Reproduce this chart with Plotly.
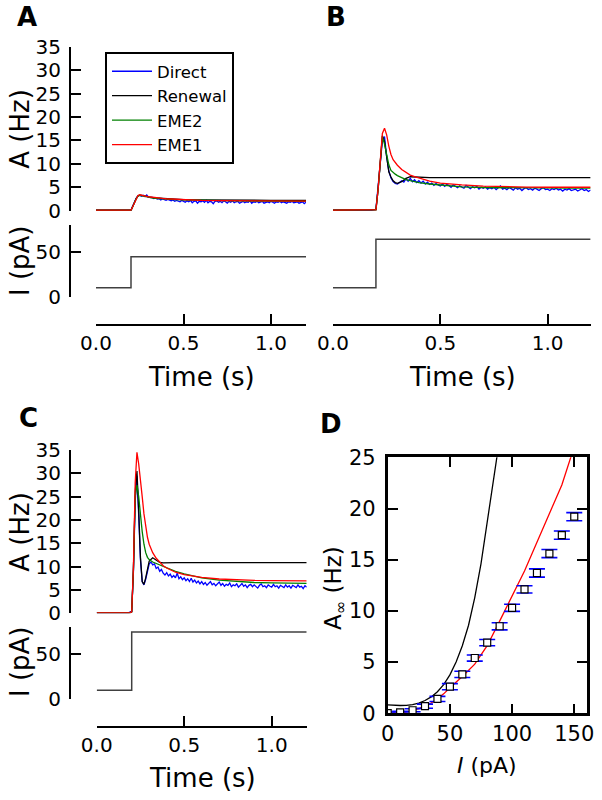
import plotly.graph_objects as go

W, H = 602, 800
FONT = "DejaVu Sans"

# ---------------- data ----------------
T_DIRECT = [0.00, 0.03, 0.06, 0.09, 0.12, 0.15, 0.18,
            0.20, 0.21, 0.22, 0.23, 0.24, 0.25, 0.26, 0.27, 0.28, 0.29,
            0.30, 0.31, 0.32, 0.33, 0.34, 0.35, 0.36, 0.37, 0.38, 0.39,
            0.40, 0.41, 0.42, 0.43, 0.44, 0.45, 0.46, 0.47, 0.48, 0.49,
            0.50, 0.51, 0.52, 0.53, 0.54, 0.55, 0.56, 0.57, 0.58, 0.59,
            0.60, 0.61, 0.62, 0.63, 0.64, 0.65, 0.66, 0.67, 0.68, 0.69,
            0.70, 0.71, 0.72, 0.73, 0.74, 0.75, 0.76, 0.77, 0.78, 0.79,
            0.80, 0.81, 0.82, 0.83, 0.84, 0.85, 0.86, 0.87, 0.88, 0.89,
            0.90, 0.91, 0.92, 0.93, 0.94, 0.95, 0.96, 0.97, 0.98, 0.99,
            1.00, 1.01, 1.02, 1.03, 1.04, 1.05, 1.06, 1.07, 1.08, 1.09,
            1.10, 1.11, 1.12, 1.13, 1.14, 1.15, 1.16, 1.17, 1.18, 1.19,
            1.20]

DIRECT_A = [0.1, 0.15, 0.05, 0.1, 0.12, 0.08, 0.1,
            0.15, 1.0, 1.9, 2.7, 3.2, 3.3, 3.1, 3.3, 3.0, 3.35,
            2.9, 2.8, 2.9, 2.6, 2.7, 2.5, 2.6, 2.3, 2.5, 2.4,
            2.2, 2.4, 2.3, 2.1, 2.3, 2.0, 2.2, 2.1, 1.9, 2.2,
            2.0, 1.8, 2.1, 1.9, 2.2, 1.7, 2.0, 2.1, 1.6, 2.0,
            1.9, 2.1, 1.8, 2.2, 1.7, 2.0, 1.9, 1.5, 2.0, 2.1,
            1.8, 2.0, 1.7, 2.1, 1.9, 1.6, 2.0, 1.8, 2.1, 1.7,
            1.9, 2.0, 1.6, 1.9, 2.0, 1.7, 1.9, 1.8, 2.1, 1.6,
            1.9, 1.8, 2.0, 1.7, 1.9, 2.0, 1.6, 1.8, 1.9, 1.7,
            2.0, 1.8, 1.6, 1.9, 1.8, 2.0, 1.7, 1.9, 1.8, 1.6,
            1.9, 1.8, 2.0, 1.7, 1.8, 1.9, 1.6, 1.8, 1.9, 1.5,
            1.8]

DIRECT_B = [0.1, 0.12, 0.08, 0.1, 0.15, 0.1, 0.1,
            0.3, 4.5, 10.0, 15.0, 15.8, 11.5, 8.5, 7.0, 6.2, 5.8,
            5.7, 6.0, 6.4, 6.1, 6.8, 6.3, 6.9, 6.2, 6.6, 6.0,
            6.4, 5.9, 6.3, 5.7, 6.1, 5.6, 5.9, 5.4, 5.8, 5.5,
            5.3, 5.7, 5.2, 5.6, 5.4, 5.0, 5.5, 5.2, 4.9, 5.3,
            5.1, 4.8, 5.4, 5.0, 4.7, 5.1, 4.9, 5.2, 4.6, 5.0,
            4.8, 5.1, 4.6, 4.9, 4.7, 5.0, 4.5, 4.9, 5.3, 4.6,
            4.8, 4.5, 4.9, 4.7, 4.4, 4.9, 4.6, 4.8, 4.3, 4.7,
            4.9, 4.5, 4.7, 4.4, 4.8, 4.6, 4.3, 4.7, 4.9, 4.5,
            4.6, 4.3, 4.7, 4.5, 4.8, 4.4, 4.6, 4.2, 4.6, 4.4,
            4.7, 4.3, 4.5, 4.6, 4.2, 4.5, 4.7, 4.3, 4.5, 4.1,
            4.4]

DIRECT_C = [0.1, 0.12, 0.08, 0.1, 0.15, 0.1, 0.1,
            0.4, 9.0, 24.0, 29.5, 21.0, 11.5, 6.8, 6.1, 7.3, 9.2,
            10.6, 11.0, 10.4, 10.6, 9.6, 9.9, 9.0, 9.4, 8.6, 8.2,
            8.7, 8.0, 8.4, 7.7, 8.1, 7.6, 8.6, 7.4, 7.8, 7.2,
            7.6, 7.0, 7.4, 6.8, 7.5, 6.7, 7.1, 6.5, 6.9, 6.3,
            6.8, 6.2, 6.6, 6.0, 6.5, 6.8, 6.1, 6.4, 5.9, 6.3,
            6.7, 6.0, 6.4, 5.8, 6.2, 6.0, 6.5, 5.7, 6.1, 5.9,
            6.3, 5.6, 6.0, 6.4, 5.8, 6.1, 5.5, 6.0, 6.2, 5.7,
            6.1, 5.8, 5.4, 6.0, 6.3, 5.7, 5.9, 5.5, 6.1, 5.8,
            5.6, 6.2, 5.7, 5.9, 5.4, 6.0, 5.8, 5.5, 6.1, 5.6,
            5.9, 5.4, 6.0, 5.7, 5.5, 6.1, 5.6, 5.8, 5.3, 5.9,
            5.6]

T_MODEL = [0.00, 0.19, 0.20, 0.21, 0.22, 0.23, 0.24, 0.25, 0.26, 0.27,
           0.28, 0.29, 0.30, 0.32, 0.34, 0.36, 0.38, 0.40, 0.45, 0.50,
           0.55, 0.60, 0.70, 0.80, 0.90, 1.00, 1.10, 1.20]

RENEWAL_A = [0.1, 0.1, 0.1, 0.9, 1.8, 2.6, 3.15, 3.3, 3.25, 3.15,
             3.05, 2.98, 2.9, 2.8, 2.72, 2.66, 2.6, 2.55, 2.45, 2.38,
             2.33, 2.3, 2.25, 2.22, 2.2, 2.2, 2.2, 2.2]
EME2_A = [0.1, 0.1, 0.1, 0.9, 1.8, 2.6, 3.1, 3.25, 3.2, 3.1,
          3.0, 2.93, 2.85, 2.75, 2.66, 2.58, 2.52, 2.47, 2.37, 2.29,
          2.23, 2.18, 2.12, 2.08, 2.05, 2.03, 2.02, 2.01]
EME1_A = [0.1, 0.1, 0.1, 0.9, 1.8, 2.7, 3.25, 3.4, 3.35, 3.25,
          3.15, 3.07, 2.98, 2.86, 2.76, 2.68, 2.61, 2.55, 2.43, 2.34,
          2.27, 2.22, 2.15, 2.1, 2.07, 2.05, 2.04, 2.03]

RENEWAL_B = [0.1, 0.1, 0.2, 4.5, 10.0, 16.0, 14.8, 11.0, 8.3, 7.2,
             6.4, 6.0, 5.85, 6.2, 6.9, 7.25, 7.2, 7.1, 7.05, 7.05,
             7.05, 7.05, 7.05, 7.05, 7.05, 7.05, 7.05, 7.05]
EME2_B = [0.1, 0.1, 0.2, 4.5, 10.0, 15.8, 14.2, 11.8, 9.8, 8.6,
          8.1, 7.8, 7.5, 7.0, 6.65, 6.4, 6.15, 6.0, 5.7, 5.45,
          5.25, 5.1, 4.95, 4.88, 4.83, 4.8, 4.8, 4.8]
EME1_B = [0.1, 0.1, 0.2, 4.5, 10.5, 16.5, 17.6, 16.2, 13.8, 12.0,
          10.9, 10.2, 9.7, 8.8, 8.1, 7.6, 7.25, 7.0, 6.3, 5.9,
          5.65, 5.5, 5.25, 5.1, 5.05, 5.0, 5.0, 5.0]

RENEWAL_C = [0.1, 0.1, 0.3, 9.5, 26.0, 30.5, 22.0, 12.0, 6.8, 6.2,
             7.6, 9.6, 11.2, 11.9, 11.3, 10.9, 10.8, 10.85, 10.85, 10.85,
             10.85, 10.85, 10.85, 10.85, 10.85, 10.85, 10.85, 10.85]
EME2_C = [0.1, 0.1, 0.3, 9.5, 25.0, 27.5, 25.0, 21.0, 17.5, 14.8,
          13.0, 12.0, 11.5, 11.0, 10.7, 10.3, 9.95, 9.65, 9.0, 8.45,
          8.0, 7.6, 7.1, 6.8, 6.6, 6.5, 6.45, 6.43]
EME1_C = [0.1, 0.1, 0.3, 10.0, 28.0, 34.5, 32.0, 29.0, 25.0, 21.3,
          18.5, 16.3, 14.8, 13.0, 11.8, 10.9, 10.2, 9.7, 8.8, 8.3,
          7.95, 7.7, 7.35, 7.15, 7.05, 7.0, 6.97, 6.95]

T_STEP = [0.0, 0.2, 0.2, 1.2]
I_A = [10, 10, 45, 45]
I_B = [10, 10, 65, 65]
I_C = [10, 10, 75, 75]

# panel D
I_POINTS = [0, 10, 20, 30, 40, 50, 60, 70, 80, 90, 100, 110, 120, 130, 140, 150]
A_POINTS = [0.02, 0.1, 0.3, 0.7, 1.4, 2.6, 3.8, 5.4, 6.9, 8.5, 10.3, 12.1, 13.7, 15.6, 17.4, 19.2]
A_ERR = [0.1, 0.1, 0.15, 0.2, 0.25, 0.3, 0.3, 0.3, 0.3, 0.35, 0.35, 0.35, 0.4, 0.4, 0.4, 0.4]

I_RENEWAL = [0, 5, 10, 15, 20, 25, 30, 35, 40, 45, 50, 55, 60, 65, 70, 75, 80, 85, 89]
A_RENEWAL = [0.82, 0.78, 0.76, 0.78, 0.85, 1.0, 1.25, 1.6, 2.1, 2.8, 3.75, 5.0, 6.6, 8.6,
             11.3, 14.6, 18.5, 22.8, 26.0]
I_EME1 = [0, 5, 10, 15, 20, 25, 30, 35, 40, 45, 50, 60, 70, 80, 90, 100, 110, 120, 130, 140, 148]
A_EME1 = [0.0, 0.02, 0.07, 0.15, 0.27, 0.45, 0.7, 1.0, 1.4, 1.9, 2.5, 3.6, 4.8, 6.6, 9.0,
          11.4, 13.9, 16.7, 19.5, 22.3, 25.3]

SERIES_NAMES = ["Direct", "Renewal", "EME2", "EME1"]
SERIES_COLORS = ["#0000ff", "#000000", "#008000", "#ff0000"]


def px(x):
    return x / W


def py(y):
    return 1 - y / H


fig = go.Figure()

panels = [
    ("x", "y", "y2", DIRECT_A, RENEWAL_A, EME2_A, EME1_A, I_A, True),
    ("x2", "y3", "y4", DIRECT_B, RENEWAL_B, EME2_B, EME1_B, I_B, False),
    ("x3", "y5", "y6", DIRECT_C, RENEWAL_C, EME2_C, EME1_C, I_C, False),
]
for xa, ya, yi, d, r, e2, e1, cur, show in panels:
    series = [(T_DIRECT, d), (T_MODEL, r), (T_MODEL, e2), (T_MODEL, e1)]
    for (tx, vals), name, col in zip(series, SERIES_NAMES, SERIES_COLORS):
        fig.add_trace(go.Scatter(x=tx, y=vals, mode="lines", name=name,
                                 line=dict(color=col, width=1.3),
                                 xaxis=xa, yaxis=ya, showlegend=show))
    fig.add_trace(go.Scatter(x=T_STEP, y=cur, mode="lines", showlegend=False,
                             line=dict(color="#404040", width=1.5),
                             xaxis=xa, yaxis=yi))

# panel D
fig.add_trace(go.Scatter(x=I_RENEWAL, y=A_RENEWAL, mode="lines", showlegend=False,
                         line=dict(color="black", width=1.3), xaxis="x4", yaxis="y7"))
fig.add_trace(go.Scatter(x=I_EME1, y=A_EME1, mode="lines", showlegend=False,
                         line=dict(color="#ff0000", width=1.3), xaxis="x4", yaxis="y7"))
fig.add_trace(go.Scatter(x=I_POINTS, y=A_POINTS, mode="markers", showlegend=False,
                         marker=dict(symbol="square", size=7, color="white",
                                     line=dict(color="black", width=1.2)),
                         error_y=dict(type="data", array=A_ERR, color="#0000ff",
                                      thickness=1.6, width=8),
                         xaxis="x4", yaxis="y7"))

tickfont = dict(family=FONT, size=20, color="black")
common = dict(showgrid=False, zeroline=False, showline=True, linecolor="black",
              linewidth=2.2, ticks="inside", ticklen=10, tickwidth=2,
              tickcolor="black", tickfont=tickfont, automargin=False)

time_ax = dict(common, range=[0, 1.2], tickvals=[0, 0.5, 1.0],
               ticktext=["0.0", "0.5", "1.0"], anchor="free", ticklabelstandoff=0)
hz_ax = dict(common, range=[0, 35], dtick=5, anchor="free", position=px(70),
             ticklabelstandoff=4)
cur_ax = dict(common, range=[0, 81], tickvals=[0, 50], anchor="free", position=px(70),
              ticklabelstandoff=4)

fig.update_layout(
    width=W, height=H, margin=dict(l=0, r=0, t=0, b=0, autoexpand=False),
    paper_bgcolor="white", plot_bgcolor="white",
    font=dict(family=FONT, color="black"),
    xaxis=dict(time_ax, domain=[px(96), px(306)], position=py(325)),
    xaxis2=dict(time_ax, domain=[px(333), px(590.6)], position=py(325)),
    xaxis3=dict(time_ax, domain=[px(96.7), px(306.7)], position=py(727.3)),
    yaxis=dict(hz_ax, domain=[py(210.7), py(46.7)]),
    yaxis2=dict(cur_ax, domain=[py(296.7), py(225)]),
    yaxis3=dict(range=[0, 35], domain=[py(210.7), py(46.7)], visible=False,
                anchor="x2", automargin=False),
    yaxis4=dict(range=[0, 81], domain=[py(296.7), py(225)], visible=False,
                anchor="x2", automargin=False),
    yaxis5=dict(hz_ax, domain=[py(613.3), py(450)]),
    yaxis6=dict(cur_ax, domain=[py(699.3), py(626.7)]),
    xaxis4=dict(common, domain=[px(387.7), px(586.7)], range=[0, 160],
                tickvals=[0, 50, 100, 150], anchor="y7", mirror="allticks",
                linewidth=2.6, ticklabelstandoff=0, tickfont=dict(tickfont, size=21)),
    yaxis7=dict(common, domain=[py(713.3), py(457.3)], range=[0, 25], dtick=5,
                anchor="x4", mirror="allticks", linewidth=2.6, ticklabelstandoff=5,
                tickfont=dict(tickfont, size=21)),
    legend=dict(x=px(105), y=py(52), xanchor="left", yanchor="top",
                bgcolor="white", bordercolor="black", borderwidth=2,
                font=dict(family=FONT, size=16.5, color="black"), itemwidth=40),
)

ann = []


def label(text, x, y, size, angle=0, bold=False):
    ann.append(dict(text=f"<b>{text}</b>" if bold else text, x=px(x), y=py(y),
                    xref="paper", yref="paper", showarrow=False,
                    xanchor="center", yanchor="middle", textangle=angle,
                    font=dict(family=FONT, size=size, color="black")))


label("A", 27, 17, 26, bold=True)
label("B", 336, 17, 26, bold=True)
label("C", 28.5, 418, 26, bold=True)
label("D", 331, 423.5, 26, bold=True)

label("A (Hz)", 20, 128.7, 26, angle=-90)
label("I (pA)", 20, 261, 26, angle=-90)
label("Time (s)", 201, 377, 26)
label("Time (s)", 462, 377, 26)
label("A (Hz)", 20, 531.7, 26, angle=-90)
label("I (pA)", 20, 662, 26, angle=-90)
label("Time (s)", 202, 778, 26)
label("A<sub>∞</sub> (Hz)", 335, 588, 23, angle=-90)
label("<i>I</i> (pA)", 487, 765, 22)

fig.update_layout(annotations=ann)

# remove the default 8 px page margin so the 602x800 figure fills the window
fig.write_html("out.html",
               config={"displayModeBar": False},
               post_script="document.body.style.margin='0';"
                           "document.body.style.overflow='hidden';")
